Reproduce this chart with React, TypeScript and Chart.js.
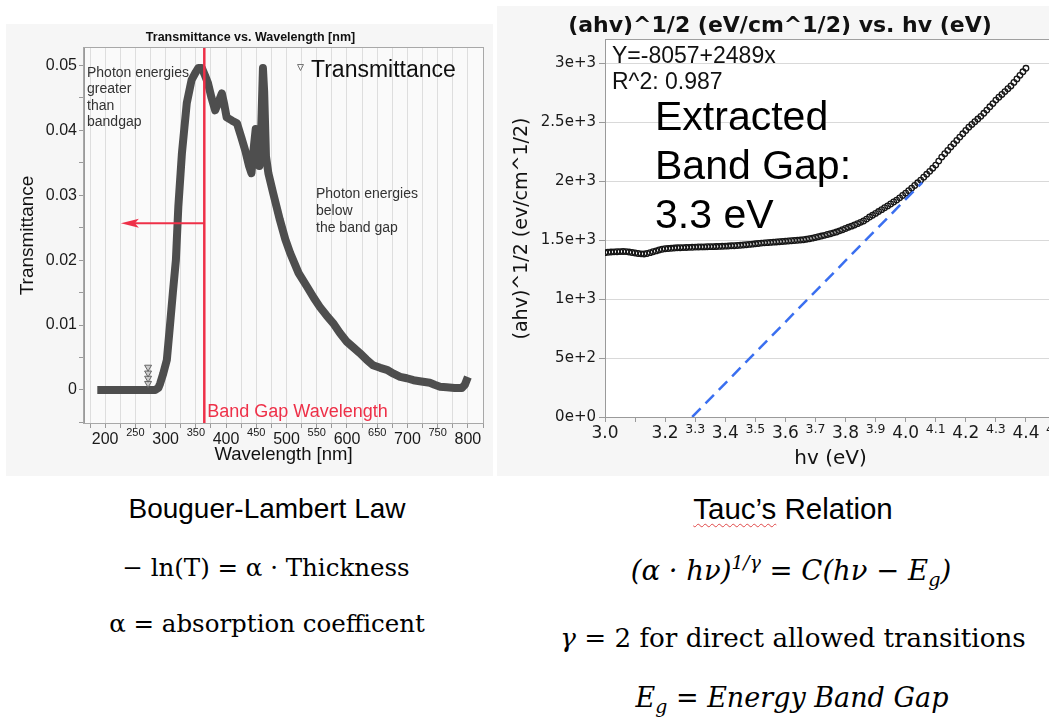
import React, { useEffect, useRef } from "react";
import { Chart, registerables } from "chart.js";

Chart.register(...registerables);

const SANS = '"Liberation Sans", Arial, sans-serif';
const DV = '"DejaVu Sans", sans-serif';
const SERIF = '"DejaVu Serif", serif';
const RED = "#ee3048";

// ---------------- Left chart: Transmittance vs. Wavelength ----------------
const leftTitle = "Transmittance vs. Wavelength [nm]";
const leftXTitle = "Wavelength [nm]";
const leftYTitle = "Transmittance";
const leftSeriesName = "Transmittance";
const leftXRange = [165, 825];
const leftYRange = [-0.0051, 0.0527];

const wavelengthNm = [
  187, 200, 225, 250, 270, 283, 288, 291, 296, 302, 307, 312, 317, 321, 327, 335,
  343, 350, 354, 360, 365, 370, 376, 382, 388, 393, 397, 401, 410, 418, 425, 432,
  438, 442, 446, 449, 452, 455, 458, 461, 463, 466, 470, 478, 489, 498, 506, 520,
  534, 545, 555, 566, 577, 588, 600, 610, 621, 632, 643, 655, 666, 677, 688, 699,
  710, 723, 737, 745, 754, 765, 778, 790, 795, 800,
];
const transmittance = [
  0, 0, 0, 0, 0, 0, 0.0003, 0.001, 0.0025, 0.0046, 0.0097, 0.015, 0.02, 0.0282, 0.0365, 0.0442,
  0.0478, 0.049, 0.0496, 0.0496, 0.0485, 0.0473, 0.045, 0.0431, 0.0445, 0.0457, 0.044, 0.042, 0.0415, 0.0411, 0.039, 0.0368,
  0.0345, 0.0334, 0.0375, 0.0402, 0.04, 0.0345, 0.04, 0.0496, 0.046, 0.036, 0.0334, 0.0303, 0.0262, 0.0232, 0.0211, 0.018,
  0.0159, 0.0142, 0.0128, 0.0115, 0.0103, 0.0088, 0.0074, 0.0066, 0.0057, 0.0047, 0.0038, 0.0034, 0.0031, 0.0025, 0.002, 0.0018,
  0.0015, 0.0013, 0.0011, 0.0008, 0.0005, 0.0004, 0.0003, 0.0003, 0.0008, 0.002,
];
const outlierWavelength = [271, 271, 271, 271];
const outlierTransmittance = [0.001, 0.0018, 0.0026, 0.0035];
const bandGapWavelength = 364;
const arrowLevel = 0.0257;
const arrowTipWavelength = 226;
const leftNoteAbove = ["Photon energies", "greater", "than", "bandgap"];
const leftNoteBelow = ["Photon energies", "below", "the band gap"];
const bandGapLabel = "Band Gap Wavelength";

// ---------------- Right chart: Tauc plot ----------------
const rightTitle = "(ahv)^1/2 (eV/cm^1/2) vs. hv (eV)";
const rightXTitle = "hv (eV)";
const rightYTitle = "(ahv)^1/2 (ev/cm^1/2)";
const rightXRange = [3.0, 4.5];
const rightYRange = [0, 3200];
const rightYTicks = [0, 500, 1000, 1500, 2000, 2500, 3000];

const photonEnergy = [
  3.0, 3.01, 3.02, 3.03, 3.04, 3.05, 3.06, 3.07, 3.08, 3.09,
  3.1, 3.11, 3.12, 3.13, 3.14, 3.15, 3.16, 3.17, 3.18, 3.19,
  3.2, 3.21, 3.22, 3.23, 3.24, 3.25, 3.26, 3.27, 3.28, 3.29,
  3.3, 3.31, 3.32, 3.33, 3.34, 3.35, 3.36, 3.37, 3.38, 3.39,
  3.4, 3.41, 3.42, 3.43, 3.44, 3.45, 3.46, 3.47, 3.48, 3.49,
  3.5, 3.51, 3.52, 3.53, 3.54, 3.55, 3.56, 3.57, 3.58, 3.59,
  3.6, 3.61, 3.62, 3.63, 3.64, 3.65, 3.66, 3.67, 3.68, 3.69,
  3.7, 3.71, 3.72, 3.73, 3.74, 3.75, 3.76, 3.77, 3.78, 3.79,
  3.8, 3.81, 3.82, 3.83, 3.84, 3.85, 3.86, 3.87, 3.88, 3.89,
  3.9, 3.91, 3.92, 3.93, 3.94, 3.95, 3.96, 3.97, 3.98, 3.99,
  4.0, 4.01, 4.02, 4.03, 4.04, 4.05, 4.06, 4.07, 4.08, 4.09,
  4.1, 4.11, 4.12, 4.13, 4.14, 4.15, 4.16, 4.17, 4.18, 4.19,
  4.2, 4.21, 4.22, 4.23, 4.24, 4.25, 4.26, 4.27, 4.28, 4.29,
  4.3, 4.31, 4.32, 4.33, 4.34, 4.35, 4.36, 4.37, 4.38, 4.39,
  4.4,
];
const taucValue = [
  1395, 1398, 1400, 1402, 1403, 1404, 1405, 1404, 1400, 1396,
  1392, 1388, 1385, 1384, 1388, 1395, 1403, 1410, 1418, 1424,
  1428, 1430, 1432, 1434, 1436, 1437, 1438, 1439, 1440, 1441,
  1442, 1443, 1444, 1444, 1445, 1446, 1446, 1447, 1448, 1449,
  1450, 1451, 1453, 1454, 1456, 1458, 1460, 1462, 1465, 1467,
  1470, 1473, 1476, 1478, 1480, 1482, 1484, 1486, 1488, 1490,
  1492, 1494, 1496, 1498, 1500, 1502, 1505, 1509, 1513, 1518,
  1524, 1530, 1536, 1542, 1549, 1556, 1563, 1570, 1580, 1590,
  1600, 1610, 1620, 1630, 1641, 1652, 1664, 1680, 1697, 1712,
  1728, 1744, 1760, 1776, 1792, 1808, 1825, 1841, 1860, 1880,
  1900, 1921, 1943, 1965, 1988, 2011, 2035, 2060, 2085, 2112,
  2138, 2172, 2206, 2235, 2263, 2292, 2320, 2348, 2376, 2404,
  2432, 2460, 2483, 2506, 2529, 2552, 2578, 2605, 2633, 2660,
  2690, 2714, 2738, 2762, 2786, 2810, 2840, 2870, 2900, 2930,
  2960,
];
const fitLineX = [3.29, 4.055];
const fitLineY = [0, 1990];
const fitText = ["Y=-8057+2489x", "R^2: 0.987"];
const bandGapText = ["Extracted", "Band Gap:", "3.3 eV"];

function LeftChart() {
  const ref = useRef<HTMLCanvasElement>(null);
  useEffect(() => {
    const canvas = ref.current!;
    const decor = {
      id: "leftDecor",
      beforeDraw(chart: any) {
        const { ctx, chartArea: a } = chart;
        ctx.save();
        ctx.fillStyle = "#fafafa";
        ctx.fillRect(a.left, a.top, a.right - a.left, a.bottom - a.top);
        ctx.restore();
      },
      afterDatasetsDraw(chart: any) {
        const { ctx, scales } = chart;
        const tx = scales.x.getPixelForValue(arrowTipWavelength);
        const ty = scales.y.getPixelForValue(arrowLevel);
        ctx.save();
        ctx.fillStyle = RED;
        ctx.beginPath();
        ctx.moveTo(tx, ty);
        ctx.lineTo(tx + 18, ty - 4.5);
        ctx.lineTo(tx + 14, ty);
        ctx.lineTo(tx + 18, ty + 4.5);
        ctx.closePath();
        ctx.fill();
        ctx.restore();
      },
      afterDraw(chart: any) {
        const { ctx, chartArea: a, scales } = chart;
        ctx.save();
        ctx.strokeStyle = "#a8a8a8";
        ctx.lineWidth = 1;
        ctx.strokeRect(a.left - 0.5, a.top - 0.5, a.right - a.left + 1, a.bottom - a.top + 1);
        // title
        ctx.fillStyle = "#111";
        ctx.font = `bold 12.5px ${SANS}`;
        ctx.textAlign = "center";
        ctx.textBaseline = "alphabetic";
        ctx.fillText(leftTitle, chart.width / 2 + 1, 16.7);
        // legend
        ctx.strokeStyle = "#777";
        ctx.lineWidth = 1;
        const lx = a.right - 182.5;
        const ly = a.top + 19;
        ctx.beginPath();
        ctx.moveTo(lx - 3, ly - 2.5);
        ctx.lineTo(lx + 3, ly - 2.5);
        ctx.lineTo(lx, ly + 3.5);
        ctx.closePath();
        ctx.stroke();
        ctx.fillStyle = "#111";
        ctx.textAlign = "left";
        ctx.font = `23px ${SANS}`;
        ctx.fillText(leftSeriesName, a.right - 172, a.top + 29.3);
        // notes
        ctx.fillStyle = "#333";
        ctx.font = `14px ${SANS}`;
        leftNoteAbove.forEach((t, i) => ctx.fillText(t, a.left + 3, a.top + 28.7 + i * 16.5));
        leftNoteBelow.forEach((t, i) => ctx.fillText(t, a.left + 232, a.top + 150.3 + i * 16.7));
        // band gap label
        ctx.fillStyle = RED;
        ctx.font = `18px ${SANS}`;
        ctx.fillText(bandGapLabel, scales.x.getPixelForValue(bandGapWavelength) + 3, a.bottom - 6);
        ctx.restore();
      },
    };

    const chart = new Chart(canvas, {
      type: "scatter",
      data: {
        datasets: [
          {
            label: "bandgap",
            data: [
              { x: bandGapWavelength, y: leftYRange[0] },
              { x: bandGapWavelength, y: leftYRange[1] },
            ],
            showLine: true,
            borderColor: RED,
            borderWidth: 2.5,
            pointRadius: 0,
          },
          {
            label: "arrow",
            data: [
              { x: bandGapWavelength, y: arrowLevel },
              { x: arrowTipWavelength + 20, y: arrowLevel },
            ],
            showLine: true,
            borderColor: RED,
            borderWidth: 2,
            pointRadius: 0,
          },
          {
            label: "outliers",
            data: outlierWavelength.map((x, i) => ({ x, y: outlierTransmittance[i] })),
            pointStyle: "triangle",
            rotation: 180,
            pointRadius: 4,
            borderColor: "#666",
            backgroundColor: "rgba(160,160,160,0.5)",
            borderWidth: 1,
          },
          {
            label: leftSeriesName,
            data: wavelengthNm.map((x, i) => ({ x, y: transmittance[i] })),
            showLine: true,
            borderColor: "#4e4e4e",
            borderWidth: 8,
            borderJoinStyle: "round",
            pointRadius: 0,
          },
        ],
      },
      options: {
        animation: false,
        responsive: false,
        maintainAspectRatio: false,
        layout: { padding: { top: 24, right: 10, bottom: 0, left: 0 } },
        plugins: { legend: { display: false }, tooltip: { enabled: false } },
        scales: {
          x: {
            type: "linear",
            min: leftXRange[0],
            max: leftXRange[1],
            afterFit: (s: any) => {
              s.height = 53;
              s.paddingLeft = 0;
              s.paddingRight = 0;
            },
            ticks: {
              stepSize: 25,
              includeBounds: false,
              autoSkip: false,
              maxRotation: 0,
              padding: 1.5,
              color: "#1a1a1a",
              callback: (v: any) => (Number(v) % 50 === 0 ? String(v) : ""),
              font: (c: any) => {
                const v = c.tick ? c.tick.value : 0;
                return v % 100 === 0
                  ? { family: SANS, size: 16, lineHeight: 1.2 }
                  : { family: SANS, size: 11, lineHeight: 0.6 };
              },
            },
            grid: { color: "#dedede", tickColor: "#9a9a9a", tickLength: 5, drawOnChartArea: true },
            border: { color: "#9a9a9a" },
            title: {
              display: true,
              text: leftXTitle,
              color: "#111",
              font: { family: SANS, size: 18.5 },
              padding: { top: 10, bottom: 10 },
            },
          },
          y: {
            type: "linear",
            min: leftYRange[0],
            max: leftYRange[1],
            afterFit: (s: any) => {
              s.width = 78;
            },
            ticks: {
              stepSize: 0.005,
              includeBounds: false,
              autoSkip: false,
              padding: 2,
              color: "#1a1a1a",
              font: { family: SANS, size: 16 },
              callback: (v: any) => {
                const n = Number(v) * 100;
                if (Math.abs(n - Math.round(n)) > 1e-6) return "";
                return Math.round(n) === 0 ? "0" : (Math.round(n) / 100).toFixed(2);
              },
            },
            grid: { drawOnChartArea: false, tickColor: "#9a9a9a", tickLength: 5 },
            border: { color: "#9a9a9a" },
            title: {
              display: true,
              text: leftYTitle,
              color: "#111",
              font: { family: SANS, size: 19 },
              padding: { top: 10.6, bottom: 0 },
            },
          },
        },
      },
      plugins: [decor],
    } as any);
    return () => chart.destroy();
  }, []);
  return (
    <canvas
      ref={ref}
      width={487}
      height={452}
      style={{ position: "absolute", left: 6, top: 24, width: 487, height: 452, background: "#f6f6f6" }}
    />
  );
}

function RightChart() {
  const ref = useRef<HTMLCanvasElement>(null);
  useEffect(() => {
    const canvas = ref.current!;
    const decor = {
      id: "rightDecor",
      beforeDraw(chart: any) {
        const { ctx, chartArea: a } = chart;
        ctx.save();
        ctx.fillStyle = "#ffffff";
        ctx.fillRect(a.left, a.top, chart.width - a.left, a.bottom - a.top);
        ctx.restore();
      },
      afterDraw(chart: any) {
        const { ctx, chartArea: a } = chart;
        ctx.save();
        ctx.strokeStyle = "#a0a0a0";
        ctx.lineWidth = 1;
        ctx.beginPath();
        ctx.moveTo(a.left, a.top - 0.5);
        ctx.lineTo(chart.width, a.top - 0.5);
        ctx.stroke();
        ctx.fillStyle = "#111";
        ctx.textBaseline = "alphabetic";
        ctx.textAlign = "center";
        ctx.font = `bold 22px ${DV}`;
        ctx.fillText(rightTitle, 283, 26);
        ctx.textAlign = "left";
        ctx.font = `23px ${SANS}`;
        ctx.fillText(fitText[0], a.left + 7, a.top + 23.3);
        ctx.fillText(fitText[1], a.left + 7, a.top + 49.3);
        ctx.fillStyle = "#000";
        ctx.font = `41px ${SANS}`;
        bandGapText.forEach((t, i) => ctx.fillText(t, a.left + 50, a.top + 90 + i * 48.8));
        ctx.restore();
      },
    };

    const chart = new Chart(canvas, {
      type: "scatter",
      data: {
        datasets: [
          {
            label: "fit",
            data: fitLineX.map((x, i) => ({ x, y: fitLineY[i] })),
            showLine: true,
            borderColor: "#3a6ff0",
            borderWidth: 2.5,
            borderDash: [12, 7],
            pointRadius: 0,
          },
          {
            label: "tauc",
            data: photonEnergy.map((x, i) => ({ x, y: taucValue[i] })),
            pointStyle: "circle",
            pointRadius: 2.8,
            borderWidth: 1.3,
            borderColor: "#161616",
            backgroundColor: "rgba(0,0,0,0)",
          },
        ],
      },
      options: {
        animation: false,
        responsive: false,
        maintainAspectRatio: false,
        layout: { padding: { top: 34, right: 11, bottom: 0, left: 0 } },
        plugins: { legend: { display: false }, tooltip: { enabled: false } },
        scales: {
          x: {
            type: "linear",
            min: rightXRange[0],
            max: rightXRange[1],
            afterFit: (s: any) => {
              s.height = 59;
              s.paddingLeft = 0;
              s.paddingRight = 0;
            },
            ticks: {
              stepSize: 0.1,
              autoSkip: false,
              maxRotation: 0,
              padding: 1,
              color: "#1a1a1a",
              callback: (v: any) => {
                const r = Math.round(Number(v) * 10);
                return r === 31 ? "" : (r / 10).toFixed(1);
              },
              font: (c: any) => {
                const r = c.tick ? Math.round(c.tick.value * 10) : 30;
                return r % 2 === 0
                  ? { family: DV, size: 17, lineHeight: 1.2 }
                  : { family: DV, size: 12.5, lineHeight: 1.0 };
              },
            },
            grid: { drawOnChartArea: false, tickColor: "#9a9a9a", tickLength: 5 },
            border: { color: "#9a9a9a" },
            title: {
              display: true,
              text: rightXTitle,
              color: "#111",
              font: { family: DV, size: 20 },
              padding: { top: 5, bottom: 5 },
            },
          },
          y: {
            type: "linear",
            min: rightYRange[0],
            max: rightYRange[1],
            afterFit: (s: any) => {
              s.width = 108;
            },
            afterBuildTicks: (s: any) => {
              s.ticks = rightYTicks.map((value) => ({ value }));
            },
            ticks: {
              autoSkip: false,
              padding: 3,
              color: "#1a1a1a",
              font: { family: DV, size: 15 },
              callback: (v: any) => Number(v).toExponential(),
            },
            grid: { color: "#d9d9d9", tickColor: "#9a9a9a", tickLength: 6, drawOnChartArea: true },
            border: { color: "#9a9a9a" },
            title: {
              display: true,
              text: rightYTitle,
              color: "#111",
              font: { family: DV, size: 19 },
              padding: { top: 13.6, bottom: 0 },
            },
          },
        },
      },
      plugins: [decor],
    } as any);
    return () => chart.destroy();
  }, []);
  return (
    <canvas
      ref={ref}
      width={570}
      height={470}
      style={{ position: "absolute", left: 497, top: 6, width: 570, height: 470, background: "#f6f6f6" }}
    />
  );
}

function Txt(props: {
  cx: number;
  base: number;
  size: number;
  family: string;
  italic?: boolean;
  children: React.ReactNode;
}) {
  const { cx, base, size, family, italic, children } = props;
  return (
    <div
      style={{
        position: "absolute",
        left: cx - 400,
        width: 800,
        top: base - 0.846 * size,
        textAlign: "center",
        fontFamily: family,
        fontSize: size,
        lineHeight: `${size}px`,
        fontStyle: italic ? "italic" : "normal",
        whiteSpace: "nowrap",
        color: "#000",
      }}
    >
      {children}
    </div>
  );
}

const supStyle: React.CSSProperties = { fontSize: "0.68em", verticalAlign: "0.6em", lineHeight: 0 };
const subStyle: React.CSSProperties = { fontSize: "0.7em", verticalAlign: "-0.3em", lineHeight: 0 };

export default function App() {
  return (
    <div
      style={{
        position: "absolute",
        left: 0,
        top: 0,
        width: 1049,
        height: 717,
        overflow: "hidden",
        background: "#ffffff",
      }}
    >
      <LeftChart />
      <RightChart />
      <Txt cx={267} base={519} size={28} family={SANS}>
        Bouguer-Lambert Law
      </Txt>
      <Txt cx={266} base={577} size={24.5} family={SERIF}>
        − ln(T) = α · Thickness
      </Txt>
      <Txt cx={267} base={633} size={24.5} family={SERIF}>
        α = absorption coefficent
      </Txt>
      <Txt cx={793} base={519} size={29.5} family={SANS}>
        <span style={{ textDecoration: "underline wavy #e04848", textDecorationThickness: "1px", textUnderlineOffset: "4px" }}>
          Tauc’s
        </span>{" "}
        Relation
      </Txt>
      <Txt cx={791} base={580} size={27.5} family={SERIF} italic>
        (α · hν)<span style={supStyle}>1/γ</span> = C(hν − E<span style={subStyle}>g</span>)
      </Txt>
      <Txt cx={793} base={647} size={26.2} family={SERIF}>
        <i>γ</i> = 2 for direct allowed transitions
      </Txt>
      <Txt cx={792} base={707} size={27} family={SERIF} italic>
        E<span style={subStyle}>g</span> = Energy Band Gap
      </Txt>
    </div>
  );
}
